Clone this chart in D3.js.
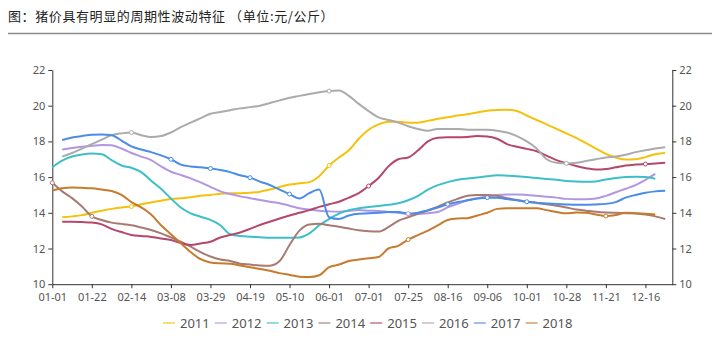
<!DOCTYPE html>
<html>
<head>
<meta charset="utf-8">
<script src="https://cdn.jsdelivr.net/npm/d3@7"></script>
<style>
  body { margin: 0; background: #fff; }
  svg { display: block; }
  .tick text { font-family: "Noto Sans", "Open Sans", sans-serif; font-size: 11px; fill: #555; }
</style>
</head>
<body>
<svg id="chart"></svg>
<script>
const title = "图：猪价具有明显的周期性波动特征 （单位:元/公斤）";

// x 轴标签（每个标签间隔内 4 个采样点）
const tickLabels = ["01-01", "01-22", "02-14", "03-08", "03-29", "04-19", "05-10", "06-01",
  "07-01", "07-25", "08-16", "09-06", "10-01", "10-28", "11-21", "12-16"];
const yTicks = [10, 12, 14, 16, 18, 20, 22];

const years = ["2011", "2012", "2013", "2014", "2015", "2016", "2017", "2018"];
const colors = ["#F4C20D", "#B197E3", "#3DBFC8", "#A87A72", "#B5476A", "#ABABAB", "#4A8CE8", "#C67B2E"];

const y2011 = [null,13.75,13.8,13.87,14.0,14.12,14.22,14.3,14.35,14.48,14.58,14.68,14.77,14.82,14.87,14.95,15.0,15.07,15.1,15.1,15.12,15.18,15.3,15.45,15.58,15.65,15.72,16.05,16.65,17.1,17.5,18.15,18.65,18.95,19.1,19.1,19.05,19.05,19.15,19.27,19.35,19.45,19.52,19.62,19.72,19.76,19.77,19.7,19.45,19.2,18.95,18.7,18.45,18.2,17.9,17.6,17.3,17.1,16.98,17.0,17.12,17.28,17.35];
const y2012 = [null,17.55,17.63,17.7,17.75,17.8,17.78,17.6,17.35,17.15,16.95,16.6,16.3,16.12,15.93,15.7,15.45,15.2,15.05,14.92,14.82,14.72,14.62,14.53,14.4,14.25,14.18,14.12,14.08,14.06,14.1,14.15,14.12,14.1,14.05,14.0,13.95,13.95,13.98,14.05,14.3,14.5,14.7,14.82,14.92,15.0,15.03,15.03,15.0,14.95,14.9,14.85,14.78,14.76,14.76,14.8,14.95,15.15,15.35,15.55,15.85,16.18,null];
const y2013 = [16.55,16.92,17.15,17.27,17.32,17.28,16.95,16.65,16.52,16.28,15.8,15.35,14.8,14.3,13.97,13.78,13.6,13.3,12.8,12.7,12.66,12.63,12.6,12.6,12.6,12.62,12.85,13.3,13.65,13.95,14.15,14.25,14.32,14.38,14.45,14.53,14.7,14.95,15.3,15.55,15.72,15.85,15.92,15.98,16.05,16.1,16.08,16.05,16.0,15.95,15.9,15.85,15.78,15.75,15.74,15.76,15.87,15.95,16.0,16.02,16.0,15.9,null];
const y2014 = [15.68,15.2,14.82,14.35,13.8,13.6,13.45,13.38,13.3,13.18,13.04,12.85,12.62,12.38,12.1,11.8,11.55,11.38,11.3,11.15,11.1,11.05,11.04,11.3,12.2,13.0,13.35,13.38,13.3,13.22,13.12,13.02,12.97,12.95,13.2,13.55,13.75,13.95,14.12,14.35,14.58,14.78,14.95,15.0,15.0,14.95,14.82,14.72,14.62,14.55,14.48,14.4,14.3,14.18,14.12,14.06,14.02,14.0,13.98,13.96,13.9,13.8,13.65];
const y2015 = [null,13.5,13.5,13.48,13.45,13.35,13.1,12.92,12.76,12.7,12.65,12.56,12.48,12.3,12.2,12.28,12.38,12.62,12.76,12.9,13.1,13.32,13.5,13.68,13.85,14.0,14.15,14.33,14.48,14.62,14.85,15.1,15.5,15.95,16.6,17.0,17.1,17.5,18.0,18.2,18.23,18.23,18.25,18.3,18.28,18.15,17.85,17.7,17.58,17.45,17.2,16.95,16.78,16.62,16.5,16.42,16.45,16.55,16.65,16.7,16.73,16.76,16.8];
const y2016 = [null,17.15,17.35,17.6,17.85,18.1,18.35,18.45,18.5,18.35,18.25,18.3,18.5,18.8,19.05,19.3,19.55,19.65,19.75,19.85,19.92,20.0,20.15,20.3,20.45,20.55,20.65,20.75,20.82,20.85,20.55,20.1,19.7,19.35,19.2,19.05,18.85,18.7,18.6,18.7,18.7,18.7,18.65,18.65,18.65,18.6,18.5,18.3,18.0,17.6,17.0,16.8,16.77,16.8,16.9,17.0,17.1,17.15,17.25,17.4,17.5,17.6,17.67];
const y2017 = [null,18.08,18.22,18.3,18.37,18.38,18.35,18.05,17.72,17.55,17.4,17.22,17.0,16.7,16.6,16.55,16.48,16.4,16.28,16.1,15.97,15.75,15.56,15.3,15.05,14.8,15.1,15.3,13.75,13.65,13.85,13.95,13.97,14.0,14.05,14.05,13.95,14.0,14.15,14.3,14.48,14.6,14.7,14.8,14.85,14.85,14.77,14.7,14.62,14.57,14.52,14.5,14.47,14.45,14.45,14.47,14.5,14.6,14.85,15.0,15.12,15.2,15.24];
const y2018 = [15.25,15.38,15.42,15.4,15.37,15.3,15.22,15.0,14.6,14.3,13.9,13.3,12.8,12.3,11.8,11.4,11.22,11.17,11.15,11.05,10.95,10.85,10.75,10.62,10.52,10.42,10.4,10.5,10.95,11.1,11.3,11.38,11.45,11.52,12.0,12.15,12.5,12.75,13.0,13.3,13.6,13.68,13.7,13.85,14.0,14.22,14.25,14.25,14.25,14.25,14.15,14.05,13.97,14.02,14.0,13.9,13.82,13.88,14.0,13.98,13.95,13.9,null];

// 空心圆标记：[年份序号, x 轴标签序号]
const markers = [[3,0],[3,1],[5,2],[0,2],[6,3],[6,4],[6,5],[6,6],[5,7],[0,7],[4,8],
  [1,9],[7,9],[6,10],[6,11],[6,12],[5,13],[7,14],[4,15]];

const series = [y2011, y2012, y2013, y2014, y2015, y2016, y2017, y2018];
const perTick = 4;

const width = 720, height = 337;
const svg = d3.select("#chart").attr("width", width).attr("height", height);

// 标题与分隔线
svg.append("text")
  .attr("x", 8).attr("y", 21)
  .style("font-family", "'Noto Sans CJK SC', sans-serif")
  .style("font-size", "13px")
  .style("letter-spacing", "0.6px")
  .style("fill", "#222")
  .text(title);
svg.append("line")
  .attr("x1", 8).attr("x2", 712).attr("y1", 33.5).attr("y2", 33.5)
  .attr("stroke", "#8c8c8c").attr("stroke-width", 1.5);

const x = d3.scaleLinear().domain([0, 15.68]).range([52.3, 672.3]);
const y = d3.scaleLinear().domain([10, 22]).range([284.2, 70]);

// 左轴
svg.append("g")
  .attr("transform", `translate(${x(0)},0)`)
  .call(d3.axisLeft(y).tickValues(yTicks).tickSize(4).tickSizeOuter(0).tickPadding(3))
  .call(g => g.selectAll("line, path").attr("stroke", "#333"));

// 右轴
svg.append("g")
  .attr("transform", `translate(${x(15.68)},0)`)
  .call(d3.axisRight(y).tickValues(yTicks).tickSize(4).tickSizeOuter(0).tickPadding(3))
  .call(g => g.selectAll("line, path").attr("stroke", "#333"));

// x 轴
svg.append("g")
  .attr("transform", `translate(0,${y(10)})`)
  .call(d3.axisBottom(x).tickValues(d3.range(tickLabels.length))
    .tickFormat(i => tickLabels[i]).tickSize(4).tickSizeOuter(0).tickPadding(5))
  .call(g => g.selectAll("line, path").attr("stroke", "#333"));

const line = d3.line()
  .defined(d => d != null)
  .x((d, i) => x(i / perTick))
  .y(d => y(d))
  .curve(d3.curveMonotoneX);

svg.append("g")
  .selectAll("path")
  .data(series)
  .join("path")
  .attr("d", line)
  .attr("fill", "none")
  .attr("stroke", (d, i) => colors[i])
  .attr("stroke-width", 2)
  .attr("stroke-linejoin", "round");

svg.append("g")
  .selectAll("circle")
  .data(markers)
  .join("circle")
  .attr("cx", d => x(d[1]))
  .attr("cy", d => y(series[d[0]][d[1] * perTick]))
  .attr("r", 2)
  .attr("fill", "#fff")
  .attr("stroke", d => colors[d[0]])
  .attr("stroke-width", 1);

// 图例
const legend = svg.append("g")
  .selectAll("g")
  .data(years)
  .join("g")
  .attr("transform", (d, i) => `translate(${163 + i * 51.8},323)`);

legend.append("line")
  .attr("x1", 0).attr("x2", 12)
  .attr("stroke", (d, i) => colors[i])
  .attr("stroke-width", 2)
  .attr("opacity", 0.55);

legend.append("text")
  .attr("x", 17).attr("dy", "0.35em")
  .style("font-family", "'Noto Sans', 'Open Sans', sans-serif")
  .style("font-size", "13px")
  .style("fill", "#555")
  .text(d => d);
</script>
</body>
</html>
